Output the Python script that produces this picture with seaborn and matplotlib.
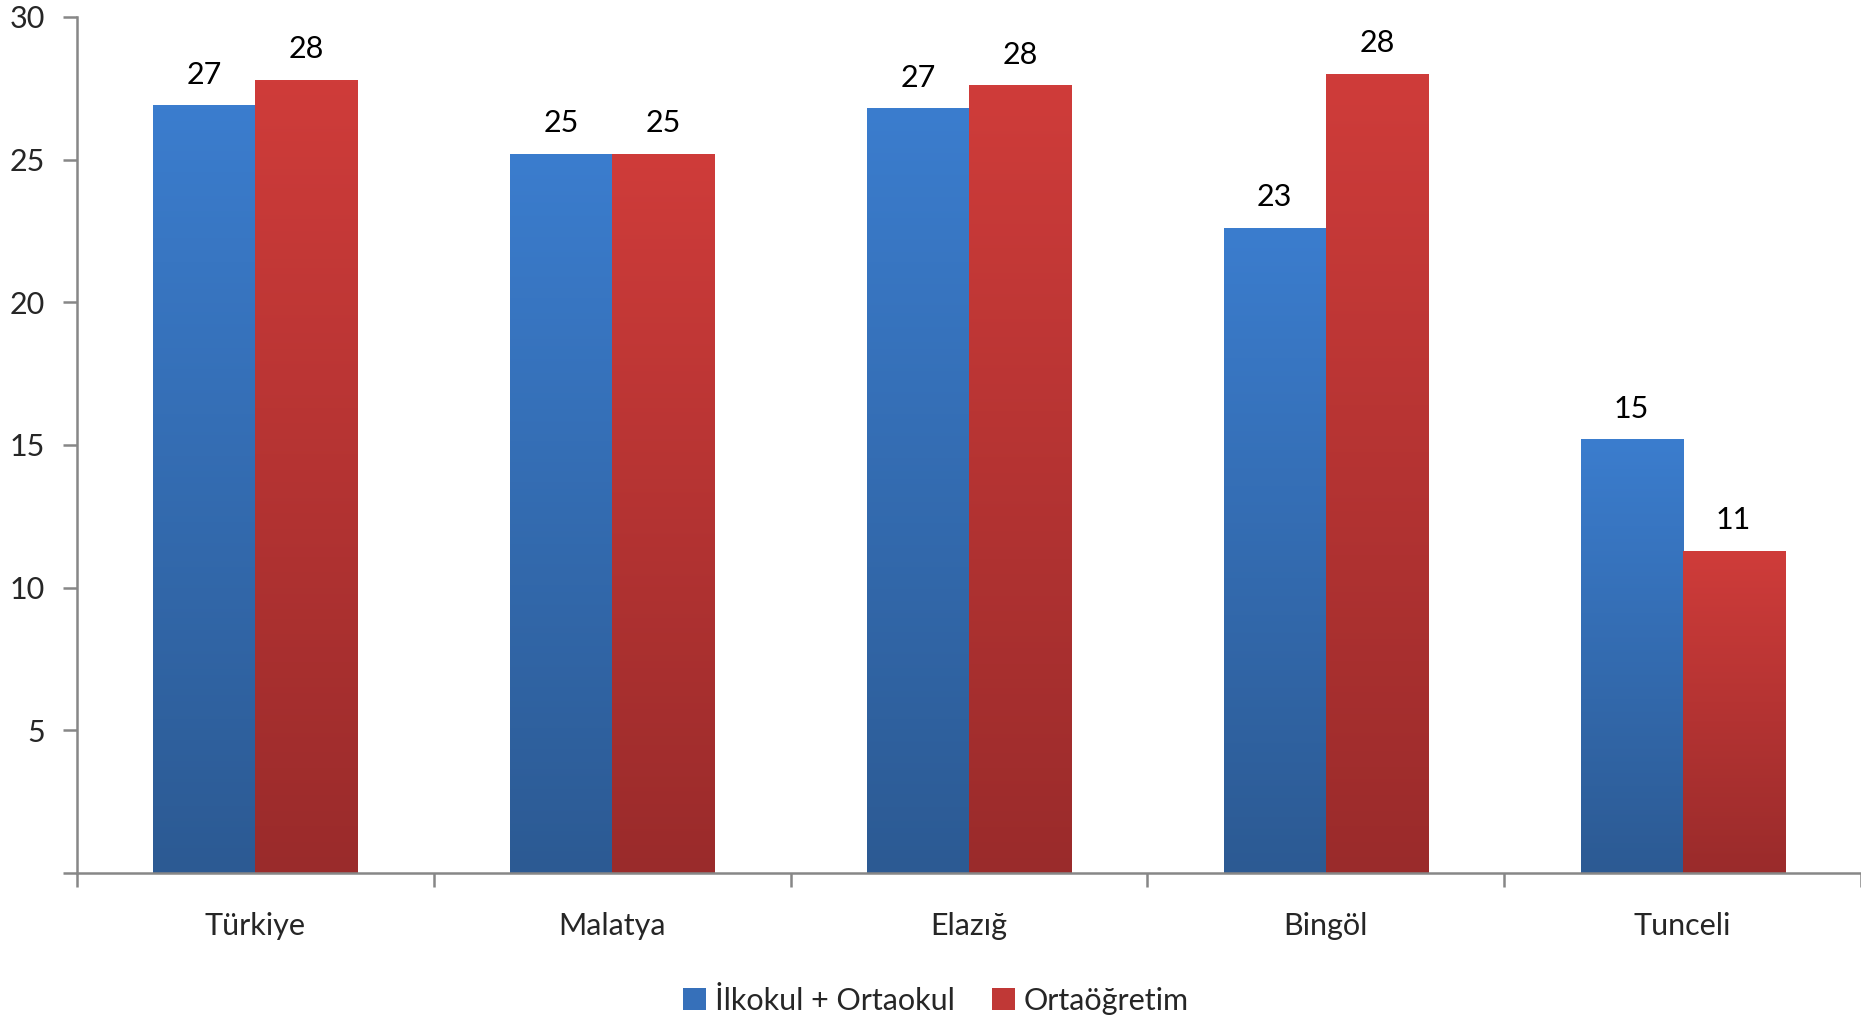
import numpy as np
import pandas as pd
import matplotlib
matplotlib.use("Agg")
import matplotlib.pyplot as plt
import seaborn as sns
from matplotlib.colors import LinearSegmentedColormap
from matplotlib.patches import Patch
from matplotlib.ticker import FixedLocator

# ---- data ----
categories = ["Türkiye", "Malatya", "Elazığ", "Bingöl", "Tunceli"]
series_names = ["İlkokul + Ortaokul", "Ortaöğretim"]
ilkokul_ortaokul = [26.9, 25.2, 26.8, 22.6, 15.2]
ortaogretim = [27.8, 25.2, 27.6, 28.0, 11.3]
y_ticks = [0, 5, 10, 15, 20, 25, 30]
y_tick_labels = ["", "5", "10", "15", "20", "25", "30"]

df = pd.DataFrame({
    "il": categories * 2,
    "seviye": [series_names[0]] * len(categories) + [series_names[1]] * len(categories),
    "deger": ilkokul_ortaokul + ortaogretim,
})

# colours (top, bottom) of vertical gradients
grad = {
    series_names[0]: ("#3B7DCE", "#2C5A93"),
    series_names[1]: ("#CF3C3A", "#9A2B2B"),
}
mid = {series_names[0]: "#3670BA", series_names[1]: "#C03836"}

FS = 22

sns.set_theme(style="white")
plt.rcParams["font.family"] = ["Lato", "DejaVu Sans"]

fig = plt.figure(figsize=(18.61, 10.18), dpi=100)
ax = fig.add_axes([77 / 1861, 1 - 873 / 1018, 1 - 77 / 1861, (873 - 17) / 1018])

sns.barplot(data=df, x="il", y="deger", hue="seviye", order=categories,
            hue_order=series_names, palette=mid, width=0.572, gap=0,
            saturation=1, legend=False, ax=ax, linewidth=0)

ax.set_xlim(-0.5, len(categories) - 0.5)
ax.set_ylim(0, 30)

# gradient fill for every bar
for cont, name in zip(ax.containers, series_names):
    cmap = LinearSegmentedColormap.from_list(name, [grad[name][1], grad[name][0]])
    g = np.linspace(0, 1, 256).reshape(-1, 1)
    for bar in cont:
        x0, y0 = bar.get_x(), bar.get_y()
        w, h = bar.get_width(), bar.get_height()
        im = ax.imshow(g, cmap=cmap, origin="lower", aspect="auto",
                       extent=[x0, x0 + w, y0, y0 + h], zorder=bar.get_zorder() + 0.1)
        im.set_clip_path(bar)
    ax.bar_label(cont, fmt="%.0f", padding=12, fontsize=FS, color="black")

ax.set_xlim(-0.5, len(categories) - 0.5)
ax.set_ylim(0, 30)

# axes styling
for s in ["top", "right"]:
    ax.spines[s].set_visible(False)
for s in ["left", "bottom"]:
    ax.spines[s].set_color("#878787")
    ax.spines[s].set_linewidth(1.8)
    ax.spines[s].set_zorder(10)

ax.set_yticks(y_ticks)
ax.set_yticklabels(y_tick_labels)
ax.tick_params(axis="y", which="major", length=10, width=1.8, color="#878787",
               direction="out", pad=13, labelsize=FS, left=True)

ax.set_xticks(range(len(categories)))
ax.set_xticklabels(categories)
ax.tick_params(axis="x", which="major", length=0, pad=28, labelsize=FS)
ax.xaxis.set_minor_locator(FixedLocator(np.arange(-0.5, len(categories), 1.0)))
ax.tick_params(axis="x", which="minor", length=10, width=1.8, color="#878787",
               direction="out", bottom=True)

ax.set_xlabel("")
ax.set_ylabel("")
ax.grid(False)

handles = [Patch(facecolor=mid[n], edgecolor="none", label=n) for n in series_names]
fig.legend(handles=handles, loc="lower center", bbox_to_anchor=(0.503, -0.0075),
           borderaxespad=0.15, borderpad=0.2,
           ncol=2, frameon=False, fontsize=FS, handlelength=0.75, handleheight=0.75,
           handletextpad=0.3, columnspacing=1.2)

fig.savefig("out.png", dpi=100)
